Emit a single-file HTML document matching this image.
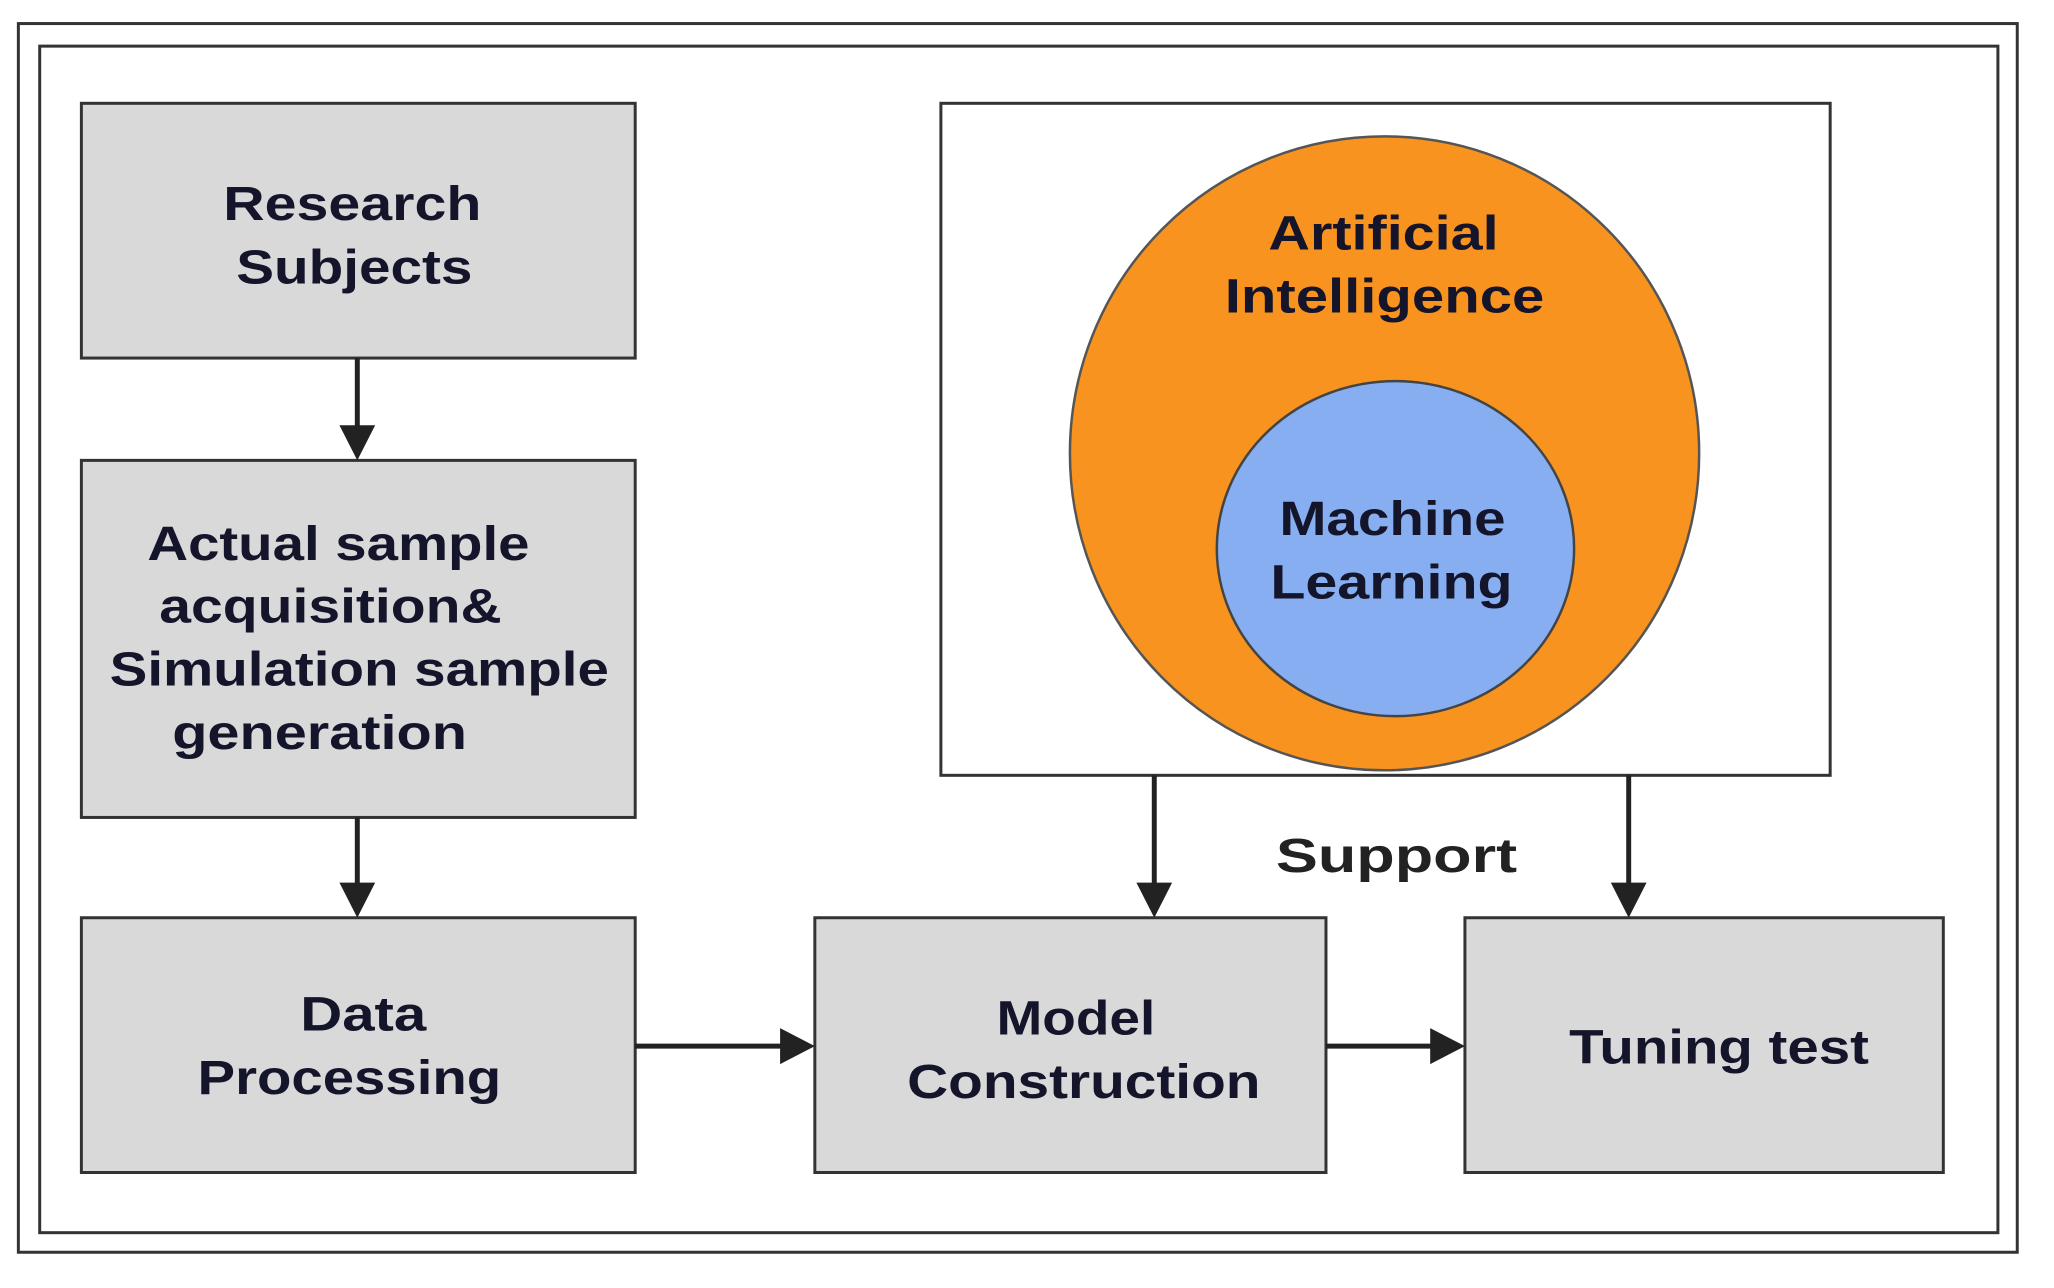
<!DOCTYPE html>
<html><head><meta charset="utf-8"><style>
html,body{margin:0;padding:0;background:#fff;}
svg{display:block;}
text{font-family:"Liberation Sans",sans-serif;font-weight:bold;font-size:48px;fill:#14142a;text-anchor:middle;dominant-baseline:central;}
</style></head><body>
<svg width="2054" height="1288" viewBox="0 0 2054 1288" xmlns="http://www.w3.org/2000/svg">
<rect x="0" y="0" width="2054" height="1288" fill="#fff"/>
<g transform="scale(0.9925,1.003)">
<rect x="18.5" y="23.5" width="2014" height="1225" fill="none" stroke="#333" stroke-width="3"/>
<rect x="40" y="46" width="1973" height="1183" fill="none" stroke="#333" stroke-width="3"/>
<g fill="#d9d9d9" stroke="#333" stroke-width="3">
<rect x="82" y="103" width="558" height="254"/>
<rect x="82" y="459" width="558" height="356"/>
<rect x="82" y="915" width="558" height="254"/>
<rect x="821" y="915" width="515" height="254"/>
<rect x="1476" y="915" width="482" height="254"/>
</g>
<rect x="948" y="103" width="896" height="670" fill="#fff" stroke="#333" stroke-width="3"/>
<ellipse cx="1395" cy="452" rx="317" ry="316" fill="#f7931e" stroke="#555" stroke-width="2.5"/>
<ellipse cx="1406" cy="547" rx="180" ry="167" fill="#87aef0" stroke="#444" stroke-width="2.5"/>
<g stroke="#222" stroke-width="5" fill="none">
<line x1="360" y1="357" x2="360" y2="428"/>
<line x1="360" y1="815" x2="360" y2="884"/>
<line x1="1163" y1="773" x2="1163" y2="884"/>
<line x1="1641" y1="773" x2="1641" y2="884"/>
<line x1="640" y1="1043" x2="790" y2="1043"/>
<line x1="1336" y1="1043" x2="1445" y2="1043"/>
</g>
<g fill="#222">
<polygon points="342,424 378,424 360,459"/>
<polygon points="342,880 378,880 360,915"/>
<polygon points="1145,880 1181,880 1163,915"/>
<polygon points="1623,880 1659,880 1641,915"/>
<polygon points="786,1025 786,1061 821,1043"/>
<polygon points="1441,1025 1441,1061 1476,1043"/>
</g>
<text x="355" y="204" textLength="260" lengthAdjust="spacingAndGlyphs">Research</text>
<text x="357" y="267" textLength="238" lengthAdjust="spacingAndGlyphs">Subjects</text>
<text x="341" y="543" textLength="385" lengthAdjust="spacingAndGlyphs">Actual sample</text>
<text x="333" y="605" textLength="345" lengthAdjust="spacingAndGlyphs">acquisition&amp;</text>
<text x="362" y="668" textLength="503" lengthAdjust="spacingAndGlyphs">Simulation sample</text>
<text x="322" y="731" textLength="297" lengthAdjust="spacingAndGlyphs">generation</text>
<text x="366" y="1012" textLength="127" lengthAdjust="spacingAndGlyphs">Data</text>
<text x="352" y="1075" textLength="306" lengthAdjust="spacingAndGlyphs">Processing</text>
<text x="1084" y="1016" textLength="160" lengthAdjust="spacingAndGlyphs">Model</text>
<text x="1092" y="1079" textLength="356" lengthAdjust="spacingAndGlyphs">Construction</text>
<text x="1732" y="1045" textLength="302" lengthAdjust="spacingAndGlyphs">Tuning test</text>
<text x="1394" y="233" textLength="232" lengthAdjust="spacingAndGlyphs">Artificial</text>
<text x="1395" y="296" textLength="322" lengthAdjust="spacingAndGlyphs">Intelligence</text>
<text x="1403" y="518" textLength="228" lengthAdjust="spacingAndGlyphs">Machine</text>
<text x="1402" y="581" textLength="244" lengthAdjust="spacingAndGlyphs">Learning</text>
<text x="1407" y="854" textLength="243" lengthAdjust="spacingAndGlyphs" style="fill:#222">Support</text>
</g>
</svg>
</body></html>
